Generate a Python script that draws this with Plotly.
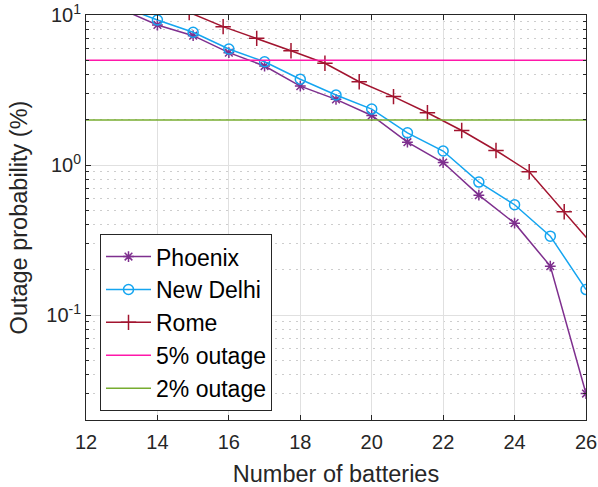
import plotly.graph_objects as go

# Outage probability (%) versus number of installed batteries
batteries = [13, 14, 15, 16, 17, 18, 19, 20, 21, 22, 23, 24, 25, 26]
phoenix = [10.9, 8.58, 7.28, 5.61, 4.57, 3.36, 2.74, 2.14, 1.42, 1.04, 0.63, 0.41, 0.212, 0.030]
new_delhi = [11.4, 9.26, 7.67, 5.93, 4.88, 3.73, 2.93, 2.36, 1.64, 1.24, 0.77, 0.544, 0.336, 0.148]

rome_batteries = [13.93, 14.89, 15.84, 16.78, 17.74, 18.69, 19.65, 20.61, 21.56,
                  22.52, 23.48, 24.41, 25.39, 26.35]
rome = [12.5, 10.4, 8.36, 6.99, 5.78, 4.77, 3.59, 2.86, 2.23, 1.70, 1.25, 0.903, 0.489, 0.265]

threshold_names = ["5% outage", "2% outage"]
threshold_values = [5, 2]
threshold_span = [12, 26]

x_ticks = [12, 14, 16, 18, 20, 22, 24, 26]
y_ticks = [0.1, 1, 10]
y_tick_labels = ["10<sup>-1</sup>", "10<sup>0</sup>", "10<sup>1</sup>"]
y_minor = [m * d for d in (0.01, 0.1, 1) for m in range(2, 10)]

PURPLE = "#7E2F8E"
BLUE = "#14A5F0"
RED = "#A2142F"
PINK = "#FF17AA"
GREEN = "#77AC30"
INK = "#262626"

fig = go.Figure()
fig.add_trace(go.Scatter(
    x=batteries, y=phoenix, name="Phoenix", mode="lines+markers",
    line=dict(color=PURPLE, width=1.5),
    marker=dict(symbol="asterisk-open", size=9, line=dict(color=PURPLE, width=1.5)),
))
fig.add_trace(go.Scatter(
    x=batteries, y=new_delhi, name="New Delhi", mode="lines+markers",
    line=dict(color=BLUE, width=1.5),
    marker=dict(symbol="circle-open", size=10, color=BLUE, line=dict(color=BLUE, width=1.5)),
))
fig.add_trace(go.Scatter(
    x=rome_batteries, y=rome, name="Rome", mode="lines+markers",
    line=dict(color=RED, width=1.5),
    marker=dict(symbol="cross-thin-open", size=11, line=dict(color=RED, width=1.5)),
))
for name, value, color in zip(threshold_names, threshold_values, [PINK, GREEN]):
    fig.add_trace(go.Scatter(
        x=threshold_span, y=[value, value], name=name, mode="lines",
        line=dict(color=color, width=1.5),
    ))

fig.update_layout(
    width=598, height=487,
    margin=dict(l=86, r=12, t=15, b=67),
    paper_bgcolor="white", plot_bgcolor="white",
    font=dict(family="Liberation Sans, Arial, sans-serif", color=INK, size=20),
    showlegend=True,
    legend=dict(
        x=0.028, y=0.459, xanchor="left", yanchor="top",
        bgcolor="white", bordercolor=INK, borderwidth=1,
        font=dict(size=23, color="black"),
        itemwidth=45, tracegroupgap=0,
    ),
)

fig.update_xaxes(
    range=[12, 26], tickmode="array", tickvals=x_ticks, automargin=False,
    ticks="inside", ticklen=5, tickcolor=INK, ticklabelstandoff=4,
    showline=True, linecolor=INK, linewidth=1, mirror="ticks",
    showgrid=True, gridcolor="#E0E0E0", gridwidth=1, zeroline=False,
    title=dict(text="Number of batteries", font=dict(size=23.5), standoff=22),
    tickfont=dict(size=20),
)
fig.update_yaxes(
    type="log", range=[-1.699, 1], automargin=False,
    tickmode="array", tickvals=y_ticks, ticktext=y_tick_labels,
    ticks="inside", ticklen=5, tickcolor=INK,
    showline=True, linecolor=INK, linewidth=1, mirror="ticks",
    showgrid=True, gridcolor="#E0E0E0", gridwidth=1, zeroline=False,
    minor=dict(tickmode="array", tickvals=y_minor, ticks="inside", ticklen=3,
               tickcolor=INK, showgrid=True, gridcolor="#CDCDCD",
               griddash="2px,5px", gridwidth=1),
    title=dict(text="Outage probability (%)", font=dict(size=23.5), standoff=12),
    tickfont=dict(size=20),
)

fig.write_html("out.html")
